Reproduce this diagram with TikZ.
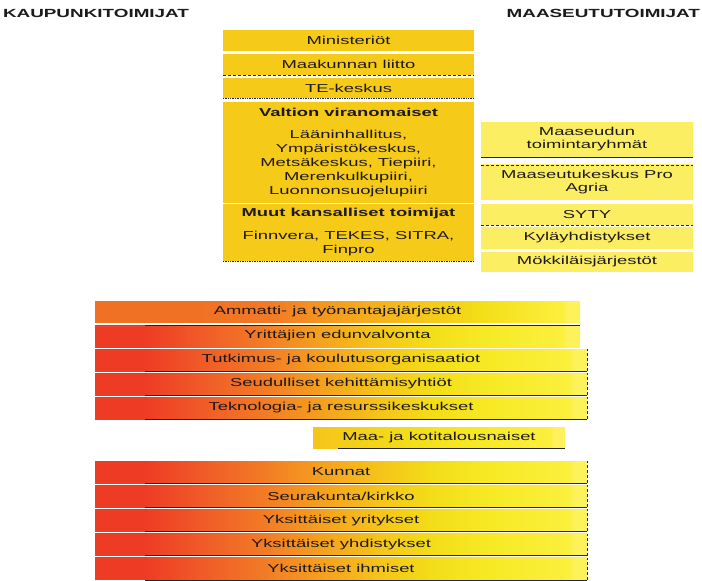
\documentclass[tikz,border=0pt]{standalone}
\usepackage{fontspec}
\setmainfont[FakeStretch=1.6]{Liberation Sans}
\usepackage{xcolor}
\usepackage{tikz}
\usetikzlibrary{positioning}

\definecolor{midgold}{RGB}{246,202,24}
\definecolor{ruralyellow}{RGB}{252,238,99}
\definecolor{inkgray}{RGB}{30,26,27}
\definecolor{barred}{RGB}{238,59,36}
\definecolor{barredorange}{RGB}{240,90,40}
\definecolor{barorange}{RGB}{242,122,37}
\definecolor{barorangegold}{RGB}{245,160,30}
\definecolor{bargold}{RGB}{245,197,26}
\definecolor{bargoldyellow}{RGB}{243,222,24}
\definecolor{baryellow}{RGB}{246,234,37}
\definecolor{baryellowlight}{RGB}{252,239,62}
\definecolor{barpale}{RGB}{253,241,92}
\definecolor{startorange}{RGB}{240,113,36}

\pgfdeclarehorizontalshading{citytorural}{100bp}{color(0bp)=(barred); color(30bp)=(barred);
  color(35.8bp)=(barredorange); color(42bp)=(barorange); color(48bp)=(barorangegold);
  color(54bp)=(bargold); color(59.5bp)=(bargoldyellow); color(65bp)=(baryellow);
  color(73.2bp)=(baryellowlight); color(73.6bp)=(barpale); color(100bp)=(barpale)}
\pgfdeclarehorizontalshading{orangetorural}{100bp}{color(0bp)=(startorange); color(35.8bp)=(startorange);
  color(43bp)=(barorange); color(50.3bp)=(barorangegold); color(58.5bp)=(bargold);
  color(64.7bp)=(bargoldyellow); color(73.2bp)=(baryellowlight); color(73.6bp)=(barpale);
  color(100bp)=(barpale)}
\pgfdeclarehorizontalshading{goldtorural}{100bp}{color(0bp)=(bargold); color(25bp)=(bargold);
  color(45bp)=(bargoldyellow); color(58bp)=(baryellow); color(72bp)=(baryellowlight);
  color(72.8bp)=(barpale); color(100bp)=(barpale)}

\begin{document}
\begin{tikzpicture}[
  x=1pt, y=1pt,
  every node/.style={outer sep=0pt, inner sep=0pt, text=inkgray, align=center,
                     font=\fontsize{11.5}{14}\selectfont},
  heading/.style={font=\fontsize{11.8}{14}\selectfont\bfseries},
  midbox/.style={fill=midgold, minimum width=251pt},
  ruralbox/.style={fill=ruralyellow, minimum width=212pt, font=\fontsize{11.5}{13}\selectfont},
  bar/.style={shade, shading=citytorural, minimum height=22pt},
  edgeline/.style={draw=black!85, line width=0.6pt},
  dashline/.style={draw=black!85, line width=0.8pt, densely dashed},
  dotline/.style={draw=black!85, line width=0.7pt, densely dotted},
]
  \useasboundingbox (0,0) rectangle (702,-581);

  % headings
  \node[heading, anchor=west] (city)  at (3,-13)   {KAUPUNKITOIMIJAT};
  \node[heading, anchor=east] (rural) at (700,-13) {MAASEUTUTOIMIJAT};

  % national and regional actors
  \node[midbox, minimum height=21pt, anchor=north west] (ministry) at (223,-30) {Ministeriöt};
  \node[midbox, minimum height=21pt, below=3pt of ministry] (region) {Maakunnan liitto};
  \node[midbox, minimum height=20pt, below=3pt of region]   (tecentre) {TE-keskus};
  \node[midbox, minimum height=101pt, below=4pt of tecentre] (state)
    {{\bfseries Valtion viranomaiset}\\[8pt] Lääninhallitus,\\ Ympäristökeskus,\\
     Metsäkeskus, Tiepiiri,\\ Merenkulkupiiri,\\ Luonnonsuojelupiiri};
  \node[midbox, minimum height=57pt, below=1pt of state] (national)
    {{\bfseries Muut kansalliset toimijat}\\[9pt] Finnvera, TEKES, SITRA,\\ Finpro};

  \draw[dashline] (region.south west) -- (region.south east);
  \draw[dotline] (tecentre.south west) -- (tecentre.south east);
  \draw[dotline] (national.south west) -- (national.south east);

  % rural actors
  \node[ruralbox, minimum height=35pt, anchor=north west] (leader) at (481,-122) {Maaseudun\\toimintaryhmät};
  \node[ruralbox, minimum height=36pt, below=7pt of leader] (proagria) {Maaseutukeskus Pro\\Agria};
  \node[ruralbox, minimum height=21pt, below=4pt of proagria] (syty) {SYTY};
  \node[ruralbox, minimum height=22pt, below=2pt of syty] (village) {Kyläyhdistykset};
  \node[ruralbox, minimum height=20pt, below=3pt of village] (cottage) {Mökkiläisjärjestöt};

  \draw[edgeline] (leader.south west) -- (leader.south east);
  \draw[dashline] ([yshift=-1pt]proagria.north west) -- ([yshift=-1pt]proagria.north east);
  \draw[dashline] (syty.south west) -- (syty.south east);

  % city to rural bars
  \node[bar, shading=orangetorural, minimum width=485pt, minimum height=21pt, anchor=north west]
    (unions) at (95,-301) {Ammatti- ja työnantajajärjestöt};
  \node[bar, minimum width=485pt, below=3pt of unions] (entrepreneurs) {Yrittäjien edunvalvonta};
  \node[bar, minimum width=492pt, anchor=north west] (research) at (95,-349) {Tutkimus- ja koulutusorganisaatiot};
  \node[bar, minimum width=492pt, below=2pt of research] (development) {Seudulliset kehittämisyhtiöt};
  \node[bar, minimum width=492pt, below=2pt of development] (technology) {Teknologia- ja resurssikeskukset};

  \node[bar, shading=goldtorural, minimum width=252pt, minimum height=21pt, anchor=north west]
    (women) at (313,-427) {Maa- ja kotitalousnaiset};

  \node[bar, minimum width=492pt, anchor=north west] (municipality) at (95,-461) {Kunnat};
  \node[bar, minimum width=492pt, below=2.2pt of municipality] (parish) {Seurakunta/kirkko};
  \node[bar, minimum width=492pt, below=2.2pt of parish] (firms) {Yksittäiset yritykset};
  \node[bar, minimum width=492pt, below=2.2pt of firms] (associations) {Yksittäiset yhdistykset};
  \node[bar, minimum width=492pt, below=2.2pt of associations] (people) {Yksittäiset ihmiset};

  \draw[edgeline] ([xshift=50pt]entrepreneurs.north west) -- (entrepreneurs.north east);
  \draw[edgeline] ([xshift=25pt]women.south west) -- (women.south east);
  \foreach \b in {research, development, technology, municipality, parish, firms, associations, people} {
    \draw[edgeline] ([xshift=50pt]\b.south west) -- (\b.south east);
    \draw[edgeline, densely dashed] (\b.south east) -- (\b.north east);
  }
\end{tikzpicture}
\end{document}
